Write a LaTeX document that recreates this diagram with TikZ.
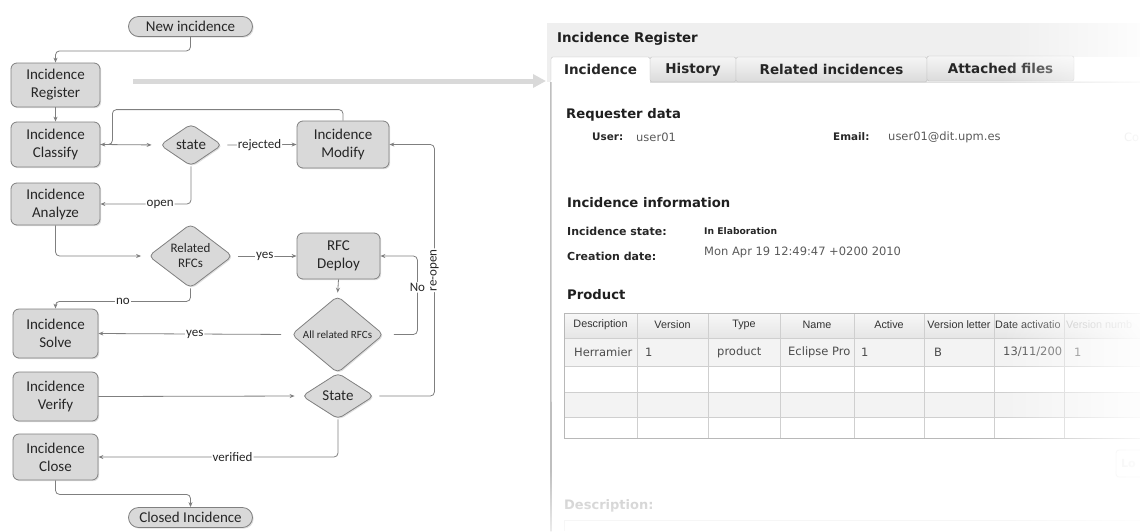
\documentclass[tikz,border=0pt]{standalone}
\usepackage{fontspec}
\setmainfont{Carlito}
\newfontfamily\uifont{DejaVu Sans}
\newfontfamily\tblfont{Liberation Sans}
\usetikzlibrary{shapes.geometric,shapes.misc,arrows.meta,shadows,fadings}

\definecolor{boxfill}{HTML}{D9D9D9}
\definecolor{boxline}{HTML}{808080}
\definecolor{lineC}{HTML}{7F7F7F}
\definecolor{txtC}{HTML}{262626}
\definecolor{bigarrow}{HTML}{D9D9D9}
\definecolor{titlebg}{HTML}{EFEFEF}
\definecolor{tabline}{HTML}{BDBDBD}
\definecolor{valC}{HTML}{5A5A5A}
\definecolor{gridC}{HTML}{CFCFCF}
\definecolor{rowC}{HTML}{F3F3F3}

\newcommand\fcMain{\fontsize{15}{18}\selectfont}
\newcommand\fcLab{\fontsize{13}{15}\selectfont}
\newcommand\fcSmall{\fontsize{11}{13}\selectfont}

\tikzfading[name=fadeR, left color=transparent!100, right color=transparent!10]
\tikzfading[name=fadeD, top color=transparent!100, bottom color=transparent!30]

\begin{document}
\begin{tikzpicture}[x=1pt,y=-1pt,
  proc/.style={rectangle, rounded corners=6pt, draw=boxline, fill=boxfill, line width=0.8pt,
    align=center, font=\fcMain, text=txtC, inner sep=0pt,
    drop shadow={shadow xshift=1.2pt, shadow yshift=-1.2pt, opacity=0.25}},
  term/.style={rounded rectangle, draw=boxline, fill=boxfill, line width=0.8pt,
    font=\fcMain, text=txtC, inner sep=0pt, minimum width=124pt, minimum height=20pt,
    drop shadow={shadow xshift=1.2pt, shadow yshift=-1.2pt, opacity=0.25}},
  dec/.style={diamond, rounded corners=5pt, draw=boxline, fill=boxfill, line width=0.8pt,
    align=center, text=txtC, inner sep=0pt,
    drop shadow={shadow xshift=1.2pt, shadow yshift=-1.2pt, opacity=0.25}},
  link/.style={draw=lineC, line width=0.8pt, rounded corners=4pt, -{Stealth[length=5pt,width=4pt]}},
  lab/.style={fill=white, inner sep=1pt, font=\fcLab, text=txtC},
  tabbox/.style={rectangle, rounded corners=2pt, draw=tabline, top color=white!96!black,
    bottom color=white!86!black, minimum height=25pt, inner sep=0pt,
    font=\uifont\bfseries\fontsize{13.5}{15}\selectfont, text=black!85},
  hd/.style={anchor=west, inner sep=0pt, font=\uifont\bfseries\fontsize{13.2}{15}\selectfont, text=black!88},
  fld/.style={anchor=west, inner sep=0pt, font=\uifont\bfseries\fontsize{10.4}{12}\selectfont, text=black!85},
  fldB/.style={anchor=west, inner sep=0pt, font=\uifont\bfseries\fontsize{11}{13}\selectfont, text=black!85},
  val/.style={anchor=west, inner sep=0pt, font=\uifont\fontsize{11.5}{13}\selectfont, text=valC},
  th/.style={inner sep=0pt, font=\tblfont\fontsize{10.8}{12}\selectfont, text=black!80},
  td/.style={anchor=west, inner sep=0pt, font=\uifont\fontsize{11.5}{13}\selectfont, text=black!70}
]
\useasboundingbox (0,0) rectangle (1140,531);
\clip (0,0) rectangle (1140,531);

% ---------------- big arrow ----------------
\coordinate (arrS) at (133,81);
\coordinate (arrE) at (546,81);
\draw[bigarrow, line width=5pt, -{Triangle[length=13pt,width=13pt]}] (arrS) -- (arrE);

% ---------------- flowchart nodes ----------------
\node[term] (new) at (190.5,26.5) {New incidence};
\node[proc, minimum width=89pt, minimum height=44pt] (reg) at (55.5,85) {Incidence\\Register};
\node[proc, minimum width=89pt, minimum height=45pt] (cls) at (55.5,144.5) {Incidence\\Classify};
\node[dec, minimum width=62pt, minimum height=42pt, font=\fcMain] (state) at (191,145) {state};
\node[proc, minimum width=92pt, minimum height=47pt] (mod) at (343,144.5) {Incidence\\Modify};
\node[proc, minimum width=89pt, minimum height=42pt] (ana) at (55.5,204) {Incidence\\Analyze};
\node[dec, minimum width=84pt, minimum height=58pt, font=\fcLab] (rel) at (190.5,256) {Related\\RFCs};
\node[proc, minimum width=83pt, minimum height=46pt] (dep) at (338.5,256) {RFC\\Deploy};
\node[dec, minimum width=92pt, minimum height=46pt, font=\fcSmall] (all) at (337.5,334.5) {All related RFCs};
\node[proc, minimum width=85pt, minimum height=49pt] (sol) at (55.5,333.5) {Incidence\\Solve};
\node[proc, minimum width=85pt, minimum height=49pt] (ver) at (55.5,396.5) {Incidence\\Verify};
\node[dec, minimum width=72pt, minimum height=46pt, font=\fcMain] (st2) at (338,396) {State};
\node[proc, minimum width=85pt, minimum height=46pt] (clo) at (55.5,457) {Incidence\\Close};
\node[term] (end) at (190.5,517.5) {Closed Incidence};

% ---------------- connectors ----------------
\draw[link] (new.south) -- ++(0,14) -| (reg.north);
\draw[link] (reg.south) -- (cls.north);
\draw[link, shorten >=8pt] (cls.east) -- (state.west);
\draw[link] (mod.north) -- ++(0,-11) -| ([xshift=12pt]cls.east) -- (cls.east);
\draw[link, shorten <=5pt] (state.east) -- node[lab]{rejected} (mod.west);
\draw[link] (state.south) |- node[lab,pos=0.67]{open} (ana.east);
\draw[link, shorten >=7pt] (ana.south) |- (rel.west);
\draw[link, shorten <=5pt] (rel.east) -- node[lab]{yes} (dep.west);
\draw[link] (rel.south) -- ++(0,13) -| node[lab,pos=0.25]{no} (sol.north);
\draw[link, shorten >=3pt] (dep.south) -- (all.north);
\draw[link, shorten <=10pt] (all.west) -- node[lab]{yes} (sol.east);
\draw[link, shorten <=10pt] (all.east) -| node[lab,pos=0.8]{No} ([xshift=37pt]dep.east) -- (dep.east);
\draw[link, shorten >=7pt] (ver.east) -- (st2.west);
\draw[link, shorten <=5pt] (st2.east) -| node[lab,rotate=90,pos=0.75]{re-open} ([xshift=45pt]mod.east) -- (mod.east);
\draw[link] (st2.south) |- node[lab,pos=0.72]{verified} (clo.east);
\draw[link] (clo.south) -- ++(0,14) -| (end.north);

% ---------------- screenshot panel ----------------
\fill[titlebg] (547,23) rectangle (1140,57);
\fill[titlebg] (547,57) rectangle (551,82);
\node[hd, font=\uifont\bfseries\fontsize{13.4}{15}\selectfont] (title) at (557,39) {Incidence Register};

\node[tabbox, minimum width=86pt] (tab2) at (693,69.5) {History};
\node[tabbox, minimum width=191pt] (tab3) at (831.5,69.5) {Related incidences};
\node[tabbox, minimum width=147pt] (tab4) at (1000.5,68.5) {Attached files};
\coordinate (tabR) at (1140,82);
\draw[gridC, line width=1pt] (tab2.south west) -- (tabR);
\node[tabbox, minimum width=99pt, fill=white, top color=white, bottom color=white] (tab1) at (600.5,69.5) {Incidence};
\fill[white] ([xshift=0.6pt,yshift=-1pt]tab1.south west) rectangle ([xshift=-0.6pt,yshift=2pt]tab1.south east);

% left border of the content pane
\coordinate (paneBL) at (551,531);
\draw[black!25, line width=1.6pt] (tab1.south west) -- (paneBL);

% requester data
\node[hd] (hreq) at (566,115) {Requester data};
\node[fld] (fuser) at (592,137) {User:};
\node[val] (vuser) at (636,137) {user01};
\node[fld] (femail) at (833,137) {Email:};
\node[val] (vemail) at (888,137) {user01@dit.upm.es};
\node[val, text=black!25] (fco) at (1124,137) {Co};

% incidence information
\node[hd] (hinfo) at (567,203) {Incidence information};
\node[fldB] (fstate) at (567,231) {Incidence state:};
\node[anchor=west, inner sep=0pt, font=\uifont\bfseries\fontsize{9.2}{11}\selectfont, text=black!85] (vstate) at (704,231) {In Elaboration};
\node[fldB] (fdate) at (567,256) {Creation date:};
\node[val] (vdate) at (704,252) {Mon Apr 19 12:49:47 +0200 2010};

% product table
\node[hd] (hprod) at (567,295) {Product};
\fill[top color=white!97!black, bottom color=white!90!black] (564,313) rectangle (1140,338);
\fill[rowC] (564,338) rectangle (1140,366);
\fill[rowC] (564,392) rectangle (1140,417);
\foreach \yy in {338,366,392,417} \draw[gridC, line width=0.6pt] (564,\yy) -- (1140,\yy);
\foreach \xx in {637,708,780,854,924,994,1064} \draw[gridC, line width=0.8pt] (\xx,313) -- (\xx,438);
\draw[black!28, line width=1pt] (1140,313) -- (564,313) -- (564,438) -- (1140,438);

\node[th] (c1) at (600.5,325) {Description};
\node[th] (c2) at (672.5,325) {Version};
\node[th] (c3) at (744,325) {Type};
\node[th] (c4) at (817,325) {Name};
\node[th] (c5) at (889,325) {Active};
\node[th] (c6) at (959,325) {Version letter};
\node[th, anchor=west] (c7) at (995,325) {Date activatio};
\node[th, anchor=west, text=black!30] (c8) at (1066,325) {Version numb};

\node[td] (d1) at (574,352) {Herramier};
\node[td] (d2) at (645,352) {1};
\node[td] (d3) at (717,352) {product};
\node[td] (d4) at (788,352) {Eclipse Pro};
\node[td] (d5) at (861,352) {1};
\node[td] (d6) at (934,352) {B};
\node[td] (d7) at (1003,352) {13/11/200};
\node[td] (d8) at (1074,352) {1};

% faded button
\draw[black!10, rounded corners=3pt, line width=0.8pt] (1116,450) rectangle (1160,477);
\node[anchor=west, inner sep=0pt, font=\uifont\bfseries\fontsize{11}{13}\selectfont, text=black!12] (btn) at (1121,464) {Lo};

% description
\node[hd, font=\uifont\bfseries\fontsize{13}{15}\selectfont, text=black!25] (hdesc) at (564,506) {Description:};
\draw[black!8, line width=1pt] (1140,520) -- (564,520) -- (564,531);

% fades
\fill[white, path fading=fadeR] (1000,0) rectangle (1140,531);
\fill[white, path fading=fadeD] (545,470) rectangle (1140,531);
\end{tikzpicture}
\end{document}
